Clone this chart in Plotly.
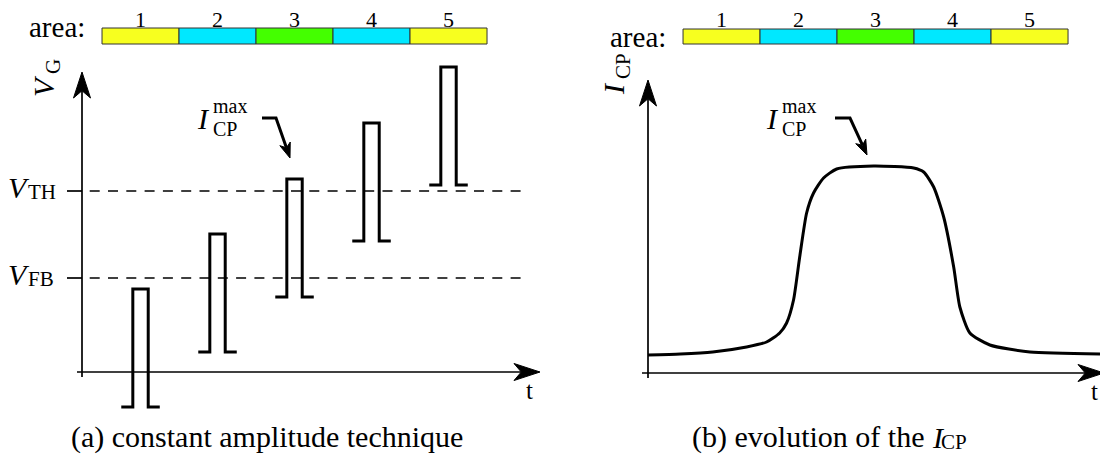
import math
import plotly.graph_objects as go

# ---------------- data ----------------
area_labels = ["1", "2", "3", "4", "5"]

# (a) constant amplitude technique: gate pulses (arbitrary units)
pulse_time = [0.76, 1.76, 2.76, 3.76, 4.76]
pulse_base = [-0.35, 0.20, 0.75, 1.31, 1.87]
pulse_amplitude = 1.18
v_fb = 0.94
v_th = 1.81

# (b) evolution of the charge pumping current (arbitrary units)
icp_t = [0.00, 0.42, 0.84, 1.28, 1.54, 1.71, 1.80, 1.89, 1.97, 2.06, 2.15, 2.28,
         2.45, 2.93, 3.45, 3.58, 3.71, 3.84, 3.97, 4.05, 4.18, 4.44, 4.96, 5.87]
icp_val = [0.18, 0.19, 0.21, 0.26, 0.31, 0.40, 0.50, 0.73, 1.16, 1.60, 1.80, 1.95,
           2.04, 2.07, 2.05, 2.01, 1.86, 1.56, 1.06, 0.66, 0.40, 0.28, 0.21, 0.19]

# ---------------- style / geometry ----------------
W, H = 1100, 466
FONT = "Liberation Serif"
area_colors = ["#f7ff1f", "#00e8ff", "#44ff00", "#00e8ff", "#f7ff1f"]
PA = dict(ox=82, oy=372, sx=77, sy=100, xr="x", yr="y", dom=[0, 0.5], area0=0.26)
PB = dict(ox=648, oy=373, sx=77, sy=100, xr="x2", yr="y2", dom=[0.5, 1], area0=0.455)
pulse_half = 0.10
pulse_lead = 0.25


def to_data(p, px, py):
    return (px - p["ox"]) / p["sx"], (p["oy"] - py) / p["sy"]


def to_px_y(p, v):
    return p["oy"] - v * p["sy"]


def paper(px, py):
    return px / W, 1 - py / H


def arrow(p, pts, L, Wd, lw):
    """polyline (pixel points) ending in a stealth arrowhead; returns shapes in data coords"""
    tail, tip = pts[-2], pts[-1]
    dx, dy = tip[0] - tail[0], tip[1] - tail[1]
    n = math.hypot(dx, dy)
    ux, uy = dx / n, dy / n
    vx, vy = -uy, ux
    bx, by = tip[0] - ux * L, tip[1] - uy * L
    nx, ny = tip[0] - ux * L * 0.72, tip[1] - uy * L * 0.72
    head = [tip, (bx + vx * Wd / 2, by + vy * Wd / 2), (nx, ny), (bx - vx * Wd / 2, by - vy * Wd / 2)]
    line_pts = list(pts[:-1]) + [(nx, ny)]

    def fmt(points, close):
        s = ""
        for i, (a, b) in enumerate(points):
            x, y = to_data(p, a, b)
            s += ("M" if i == 0 else "L") + f"{x:.5f},{y:.5f} "
        return s + ("Z" if close else "")

    return [
        dict(type="path", path=fmt(line_pts, False), xref=p["xr"], yref=p["yr"],
             line=dict(color="black", width=lw)),
        dict(type="path", path=fmt(head, True), xref=p["xr"], yref=p["yr"],
             fillcolor="black", line=dict(color="black", width=1)),
    ]


fig = go.Figure()

# ---- panel (a) ----
xs, ys = [], []
for c, b in zip(pulse_time, pulse_base):
    top = b + pulse_amplitude
    xs += [c - pulse_lead, c - pulse_half, c - pulse_half, c + pulse_half, c + pulse_half, c + pulse_lead, None]
    ys += [b, b, top, top, b, b, None]
fig.add_trace(go.Scatter(x=xs, y=ys, mode="lines", line=dict(color="black", width=3),
                         xaxis="x", yaxis="y", hoverinfo="skip", cliponaxis=False))

t_dash0, t_dash1 = 0.10, 5.78
for lvl in [v_fb, v_th]:
    fig.add_trace(go.Scatter(x=[t_dash0, t_dash1], y=[lvl, lvl], mode="lines",
                             line=dict(color="black", width=1.7, dash="10px,8.3px"),
                             xaxis="x", yaxis="y", hoverinfo="skip"))
    fig.add_trace(go.Scatter(x=[-0.195, 0], y=[lvl, lvl], mode="lines",
                             line=dict(color="black", width=1.7),
                             xaxis="x", yaxis="y", hoverinfo="skip"))

# ---- panel (b) ----
fig.add_trace(go.Scatter(x=icp_t, y=icp_val, mode="lines",
                         line=dict(color="black", width=3, shape="spline", smoothing=0.6),
                         xaxis="x2", yaxis="y2", hoverinfo="skip", cliponaxis=False))

# ---- area bars ----
for p, yc, bw, xa, ya in [(PA, 3.36, 0.16, "x", "y"), (PB, 3.365, 0.15, "x2", "y2")]:
    fig.add_trace(go.Bar(orientation="h", y=[yc] * len(area_labels), x=[1] * len(area_labels),
                         base=[p["area0"] + i for i in range(len(area_labels))],
                         width=[bw] * len(area_labels),
                         marker=dict(color=area_colors, line=dict(color="#333333", width=1)),
                         xaxis=xa, yaxis=ya, hoverinfo="skip"))

shapes = []
# axes with arrows
shapes += arrow(PA, [(82, 377), (82, 72)], 26, 17, 1.7)
shapes += arrow(PA, [(77, 372), (540, 372)], 26, 17, 1.7)
shapes += arrow(PB, [(648, 378), (648, 80)], 26, 17, 1.7)
shapes += arrow(PB, [(642, 373), (1104, 373)], 26, 17, 1.7)
# I_CP^max pointers
shapes += arrow(PA, [(262, 118), (276, 118), (290, 158)], 15, 11, 3)
shapes += arrow(PB, [(835, 118), (850, 118), (867, 155)], 15, 11, 3)

annotations = []


def txt(px, py, text, size, xanchor="center", angle=0):
    x, y = paper(px, py)
    annotations.append(dict(x=x, y=y, xref="paper", yref="paper", text=text, showarrow=False,
                            xanchor=xanchor, yanchor="middle", textangle=angle, borderpad=0,
                            font=dict(family=FONT, size=size, color="black")))


for p, ya in [(PA, 27), (PB, 37)]:
    txt(p["ox"] + p["sx"] * p["area0"] - 16, ya, "area:", 29, xanchor="right")
    for i, lab in enumerate(area_labels):
        txt(p["ox"] + p["sx"] * (p["area0"] + i + 0.5), 20, lab, 22)

# rotated axis labels (symbol + subscript)
txt(44, 86, "<i>V</i>", 30, angle=-90)
txt(53, 67, "G", 21, angle=-90)
txt(614, 89, "<i>I</i>", 30, angle=-90)
txt(623, 66, "CP", 21, angle=-90)

# level labels
for lvl, sub in [(v_th, "TH"), (v_fb, "FB")]:
    yl = to_px_y(PA, lvl)
    txt(31, yl - 4, "<i>V</i>", 30, xanchor="right")
    txt(27, yl + 1, sub, 21, xanchor="left")

txt(529, 390, "t", 25)
txt(1094, 391, "t", 25)
for ix in [211, 780]:
    txt(ix, 119, "<i>I</i>", 30, xanchor="right")
    txt(ix + 1, 106, "max", 20, xanchor="left")
    txt(ix + 1, 128.5, "CP", 20, xanchor="left")

txt(267, 437, "(a) constant amplitude technique", 30)
txt(925, 437, "(b) evolution of the", 30, xanchor="right")
txt(931, 437, "<i>I</i>", 30, xanchor="left")
txt(940, 442, "CP", 21, xanchor="left")


def rng(p):
    x0 = (p["dom"][0] * W - p["ox"]) / p["sx"]
    x1 = (p["dom"][1] * W - p["ox"]) / p["sx"]
    return [x0, x1], [(p["oy"] - H) / p["sy"], p["oy"] / p["sy"]]


ax_a, ay_a = rng(PA)
ax_b, ay_b = rng(PB)
fig.update_layout(
    width=W, height=H, margin=dict(l=0, r=0, t=0, b=0),
    paper_bgcolor="white", plot_bgcolor="white", showlegend=False, barmode="overlay",
    xaxis=dict(domain=PA["dom"], range=ax_a, visible=False, anchor="y"),
    yaxis=dict(domain=[0, 1], range=ay_a, visible=False, anchor="x"),
    xaxis2=dict(domain=PB["dom"], range=ax_b, visible=False, anchor="y2"),
    yaxis2=dict(domain=[0, 1], range=ay_b, visible=False, anchor="x2"),
    shapes=shapes, annotations=annotations,
)
fig.write_html("out.html")
